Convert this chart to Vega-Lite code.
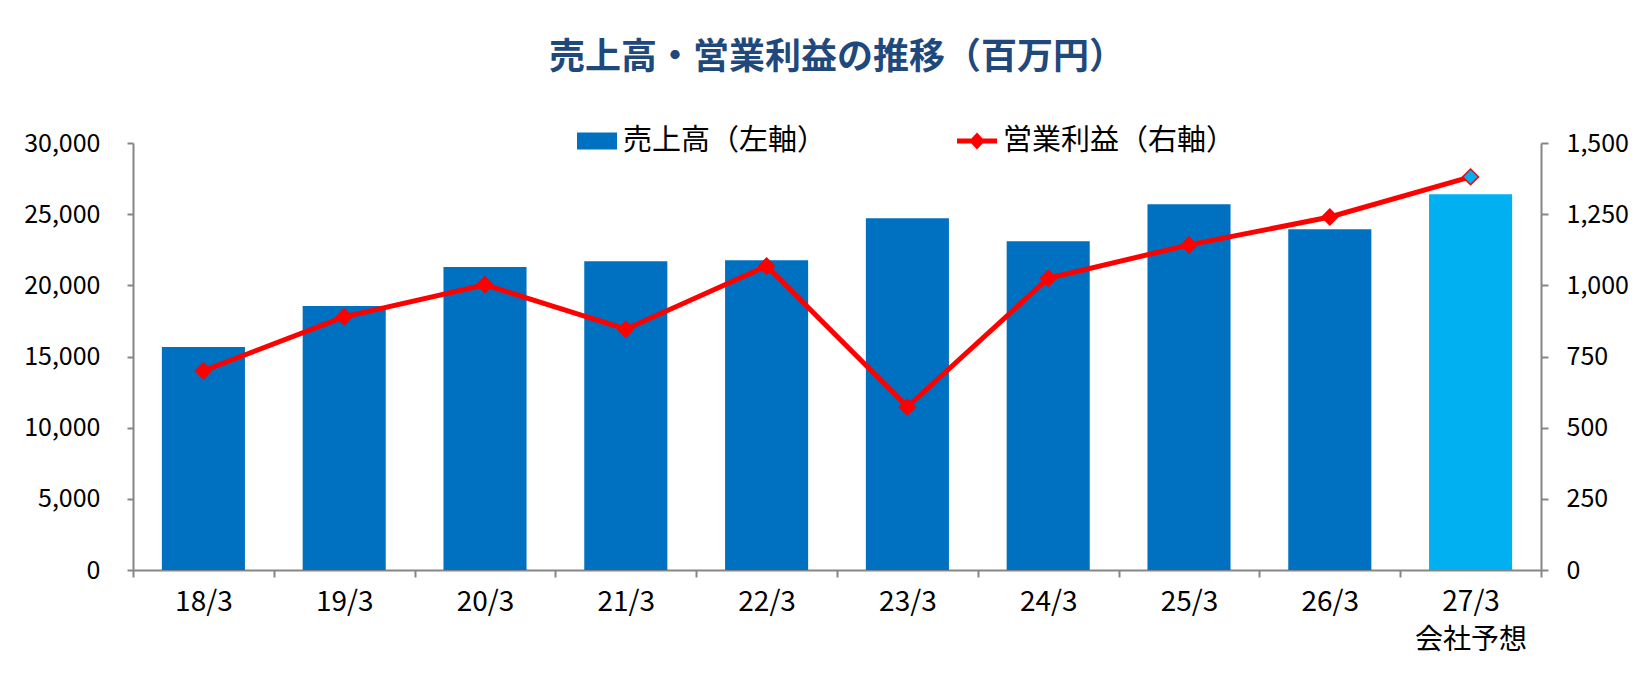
{
  "$schema": "https://vega.github.io/schema/vega-lite/v6.json",
  "width": 1408,
  "height": 427,
  "autosize": {"type": "none"},
  "padding": {"left": 133, "top": 143, "right": 106, "bottom": 105},
  "background": "white",
  "title": {
    "text": "売上高・営業利益の推移（百万円）",
    "font": "Noto Sans CJK JP",
    "fontSize": 36,
    "fontWeight": "bold",
    "color": "#1F497D",
    "anchor": "middle",
    "frame": "group",
    "offset": 44
  },
  "data": {
    "values": [
      {"period": "18/3", "sales": 15660, "profit": 700, "kind": "売上高（左軸）", "series": "営業利益（右軸）", "forecast": false},
      {"period": "19/3", "sales": 18540, "profit": 889, "kind": "売上高（左軸）", "series": "営業利益（右軸）", "forecast": false},
      {"period": "20/3", "sales": 21280, "profit": 1002, "kind": "売上高（左軸）", "series": "営業利益（右軸）", "forecast": false},
      {"period": "21/3", "sales": 21700, "profit": 846, "kind": "売上高（左軸）", "series": "営業利益（右軸）", "forecast": false},
      {"period": "22/3", "sales": 21770, "profit": 1068, "kind": "売上高（左軸）", "series": "営業利益（右軸）", "forecast": false},
      {"period": "23/3", "sales": 24710, "profit": 573, "kind": "売上高（左軸）", "series": "営業利益（右軸）", "forecast": false},
      {"period": "24/3", "sales": 23100, "profit": 1025, "kind": "売上高（左軸）", "series": "営業利益（右軸）", "forecast": false},
      {"period": "25/3", "sales": 25700, "profit": 1142, "kind": "売上高（左軸）", "series": "営業利益（右軸）", "forecast": false},
      {"period": "26/3", "sales": 23940, "profit": 1240, "kind": "売上高（左軸）", "series": "営業利益（右軸）", "forecast": false},
      {"period": "27/3 会社予想", "sales": 26400, "profit": 1381, "kind": "予想", "series": "営業利益（右軸）", "forecast": true}
    ]
  },
  "encoding": {
    "x": {
      "field": "period",
      "type": "nominal",
      "sort": null,
      "scale": {"paddingInner": 0, "paddingOuter": 0},
      "axis": {
        "title": null,
        "labelAngle": 0,
        "labelExpr": "isValid(datum.value) ? split(datum.value, ' ') : ''",
        "tickBand": "extent",
        "tickSize": 7,
        "labelFontSize": 28,
        "labelLineHeight": 38,
        "labelPadding": 11
      }
    }
  },
  "layer": [
    {
      "mark": {"type": "bar", "width": {"band": 0.59}},
      "encoding": {
        "y": {
          "field": "sales",
          "type": "quantitative",
          "scale": {"domain": [0, 30000], "nice": false},
          "axis": {
            "orient": "left",
            "title": null,
            "values": [0, 5000, 10000, 15000, 20000, 25000, 30000],
            "format": ",d",
            "labelPadding": 27
          }
        },
        "fill": {
          "field": "kind",
          "type": "nominal",
          "scale": {"domain": ["売上高（左軸）", "予想"], "range": ["#0070C0", "#00B0F0"]},
          "legend": {
            "orient": "none",
            "legendX": 444,
            "legendY": -22,
            "title": null,
            "values": ["売上高（左軸）"],
            "symbolType": "M-1,-0.42H1V0.42H-1Z",
            "symbolSize": 1600,
            "symbolStrokeWidth": 0,
            "labelOffset": 6
          }
        }
      }
    },
    {
      "encoding": {
        "y": {
          "field": "profit",
          "type": "quantitative",
          "scale": {"domain": [0, 1500], "nice": false},
          "axis": {
            "orient": "right",
            "title": null,
            "values": [0, 250, 500, 750, 1000, 1250, 1500],
            "format": ",d",
            "tickSize": 7,
            "labelPadding": 18
          }
        }
      },
      "layer": [
        {
          "mark": {"type": "line", "strokeWidth": 5},
          "encoding": {
            "stroke": {
              "field": "series",
              "type": "nominal",
              "scale": {"range": ["#FF0000"]},
              "legend": {
                "orient": "none",
                "legendX": 824,
                "legendY": -22,
                "title": null,
                "symbolType": "M-1,-0.125L-0.28,-0.125L0,-0.42L0.28,-0.125L1,-0.125L1,0.125L0.28,0.125L0,0.42L-0.28,0.125L-1,0.125Z",
                "symbolSize": 1600,
                "symbolFillColor": "#FF0000",
                "symbolStrokeWidth": 0,
                "labelOffset": 6
              }
            }
          }
        },
        {
          "mark": {"type": "point", "shape": "diamond", "filled": true, "size": 250, "opacity": 1, "stroke": "#FF0000", "strokeWidth": 1.5},
          "encoding": {
            "fill": {"condition": {"test": "datum.forecast", "value": "#00B0F0"}, "value": "#FF0000"}
          }
        }
      ]
    }
  ],
  "resolve": {"scale": {"y": "independent"}},
  "config": {
    "view": {"stroke": null},
    "axis": {
      "domainColor": "#868686",
      "domainWidth": 2,
      "tickColor": "#868686",
      "tickWidth": 2,
      "tickSize": 6,
      "grid": false,
      "labelFont": "Noto Sans CJK JP",
      "labelFontSize": 25,
      "labelColor": "#000000"
    },
    "legend": {
      "padding": 0,
      "labelFont": "Noto Sans CJK JP",
      "labelFontSize": 29,
      "labelColor": "#000000",
      "labelLimit": 400
    }
  }
}
